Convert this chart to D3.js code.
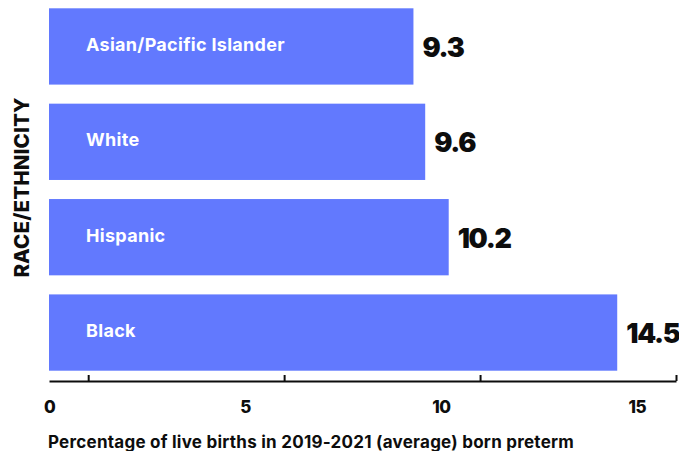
<!DOCTYPE html>
<html>
<head>
<meta charset="utf-8">
<script src="https://cdn.jsdelivr.net/npm/d3@7"></script>
<style>
  html, body { margin: 0; padding: 0; background: #fff; }
  svg { display: block; }
</style>
</head>
<body>
<svg id="chart" width="679" height="451"></svg>
<script>
const categories = ["Asian/Pacific Islander", "White", "Hispanic", "Black"];
const values = [9.3, 9.6, 10.2, 14.5];
const tickLabelValues = [0, 5, 10, 15];
const tickMarkValues = [1, 6, 11, 16];
const xTitle = "Percentage of live births in 2019-2021 (average) born preterm";
const yTitle = "RACE/ETHNICITY";

const svg = d3.select("#chart");
const font = "Inter, 'Liberation Sans', Arial, sans-serif";
const barColor = "#6279fe";
const ink = "#0d0d0d";

const x = d3.scaleLinear().domain([0, 16]).range([49, 676]);
const y = d3.scaleBand().domain(categories).range([8.3, 370.7]).paddingInner(0.2).paddingOuter(0);

const data = categories.map((c, i) => ({ c, v: values[i] }));

// bars
svg.append("g").selectAll("rect").data(data).join("rect")
  .attr("x", x(0))
  .attr("y", d => y(d.c))
  .attr("width", d => x(d.v) - x(0))
  .attr("height", y.bandwidth())
  .attr("fill", barColor);

// category labels inside bars
svg.append("g").selectAll("text").data(data).join("text")
  .attr("x", x(0) + 37)
  .attr("y", d => y(d.c) + y.bandwidth() / 2 + 4.5)
  .attr("fill", "#fff")
  .attr("font-family", font)
  .attr("font-weight", 700)
  .attr("font-size", 18)
  .attr("letter-spacing", 0.3)
  .text(d => d.c);

// value labels
svg.append("g").selectAll("text").data(data).join("text")
  .attr("x", d => x(d.v) + 9)
  .attr("y", d => y(d.c) + y.bandwidth() / 2 + 10.5)
  .attr("fill", ink)
  .attr("font-family", font)
  .attr("font-weight", 900)
  .attr("font-size", 27)
  .attr("letter-spacing", -1.3)
  .text(d => d3.format(".1f")(d.v));

// axis with tick marks
const axisG = svg.append("g")
  .attr("transform", "translate(0,381)")
  .call(d3.axisBottom(x).tickValues(tickMarkValues).tickSize(-6).tickSizeOuter(0).tickFormat(""));
axisG.select(".domain").attr("stroke", ink).attr("stroke-width", 2.2);
axisG.selectAll(".tick line").attr("stroke", ink).attr("stroke-width", 2);

// axis labels
const labelG = svg.append("g")
  .attr("transform", "translate(0,381)")
  .call(d3.axisBottom(x).tickValues(tickLabelValues).tickSize(0).tickFormat(d3.format("d")));
labelG.select(".domain").remove();
labelG.selectAll(".tick text")
  .attr("y", 31.5).attr("dy", null)
  .attr("fill", ink)
  .attr("font-family", font)
  .attr("font-weight", 800)
  .attr("font-size", 17)
  .attr("letter-spacing", -0.5);

// x title
svg.append("text")
  .attr("x", 48)
  .attr("y", 447.5)
  .attr("fill", ink)
  .attr("font-family", font)
  .attr("font-weight", 700)
  .attr("font-size", 17)
  .attr("letter-spacing", 0.25)
  .text(xTitle);

// y title
svg.append("text")
  .attr("transform", "translate(28.5,187.5) rotate(-90)")
  .attr("text-anchor", "middle")
  .attr("fill", ink)
  .attr("font-family", font)
  .attr("font-weight", 800)
  .attr("font-size", 20.5)
  .attr("letter-spacing", 0.15)
  .text(yTitle);
</script>
</body>
</html>
